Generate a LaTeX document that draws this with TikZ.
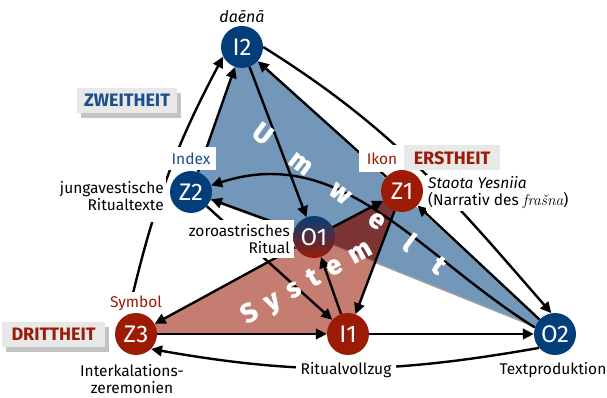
\documentclass[tikz,border=0pt]{standalone}
\usepackage{fontspec}
\setmainfont{Fira Sans}
\newfontfamily\lmserif{Latin Modern Roman}
\newfontfamily\heavyfont{Fira Sans}[BoldFeatures={FakeBold=1.2}]
\usetikzlibrary{arrows.meta,shadows}
\definecolor{nblue}{RGB}{4,62,122}
\definecolor{nred}{RGB}{155,27,5}
\definecolor{fblue}{RGB}{114,151,185}
\definecolor{fred}{RGB}{197,125,114}
\definecolor{fdark}{RGB}{124,52,52}
\definecolor{fdarkline}{RGB}{165,120,118}
\definecolor{lblue}{RGB}{27,78,140}
\definecolor{boxgray}{RGB}{232,232,232}
\definecolor{shadowgray}{RGB}{195,195,195}
\definecolor{polyshadow}{RGB}{160,160,160}
\pgfdeclarelayer{bg}\pgfdeclarelayer{lab}\pgfdeclarelayer{fg}
\pgfsetlayers{bg,main,lab,fg}
\begin{document}
\begin{tikzpicture}[x=1pt,y=1pt,
  circ/.style={circle, minimum size=42pt, inner sep=0pt, text=white, font=\fontsize{24}{24}\selectfont},
  bluenode/.style={circ, fill=nblue},
  rednode/.style={circ, fill=nred},
  arr/.style={line width=2.4pt, -{Triangle[length=11pt,width=10.5pt]}},
  lbl/.style={font=\fontsize{15.5}{17}\selectfont, inner sep=2pt},
  wlbl/.style={lbl, fill=white},
  theit/.style={font=\bfseries\fontsize{18}{18}\selectfont, fill=boxgray, inner sep=0pt, minimum height=25pt},
  shad/.style={drop shadow={shadow xshift=4pt, shadow yshift=-5pt, fill=shadowgray, opacity=1}},
  spaced/.style={text=white, font=\heavyfont\bfseries\fontsize{27}{27}\selectfont, inner sep=0pt}
]
\useasboundingbox (0,0) rectangle (607,398);

\begin{pgfonlayer}{fg}
\node[bluenode] (I2) at (242,351) {I2};
\node[bluenode] (Z2) at (191,206) {Z2};
\node[circ, top color=nblue, bottom color=nred] (O1) at (314,161) {O1};
\node[rednode] (Z1) at (402,207) {Z1};
\node[rednode] (Z3) at (136,64) {Z3};
\node[rednode] (I1) at (348,64) {I1};
\node[bluenode] (O2) at (555,64) {O2};
\end{pgfonlayer}

\begin{pgfonlayer}{bg}
\fill[polyshadow] ([shift={(0.5,-1.8)}]I2.center) -- ([shift={(0.5,-1.8)}]O2.center) -- ([shift={(0.5,-1.8)}]O1.center) -- ([shift={(0.5,-1.8)}]Z2.center) -- cycle;
\fill[fblue] (I2.center) -- (O2.center) -- (O1.center) -- (Z2.center) -- cycle;
\fill[fred] (Z3.center) -- (Z1.center) -- (I1.center) -- cycle;
\begin{scope}
\clip (Z3.center) -- (Z1.center) -- (I1.center) -- cycle;
\fill[fdarkline] ([shift={(0.5,-1.8)}]I2.center) -- ([shift={(0.5,-1.8)}]O2.center) -- ([shift={(0.5,-1.8)}]O1.center) -- ([shift={(0.5,-1.8)}]Z2.center) -- cycle;
\fill[fdark] (I2.center) -- (O2.center) -- (O1.center) -- (Z2.center) -- cycle;
\end{scope}
\end{pgfonlayer}

\draw[arr] (Z2) -- (I2);
\draw[arr] (I2) -- (O1);
\draw[arr] (Z1) -- (I2);
\draw[arr] (O1) -- (Z2);
\draw[arr] (O1) -- (Z1);
\draw[arr] (O1) -- (Z3);
\draw[arr] (Z2) -- (I1);
\draw[arr] (I1) -- (O1);
\draw[arr] (Z1) -- (I1);
\draw[arr] (O2) -- (Z1);
\draw[arr] (Z3) -- (I1);
\draw[arr] (I1) -- (O2);
\draw[arr] (Z3.112) to[out=77,in=242] (I2.207);
\draw[arr] (I2.east) to[out=-32,in=131] (O2.100);
\draw[arr] (O2.162) to[out=148,in=18] (Z2.18);
\draw[arr] (O2.221) to[out=190,in=350] (Z3.315);

\begin{pgfonlayer}{lab}
\node[lbl, font=\itshape\fontsize{16}{17}\selectfont] (daena) at (242,381) {daēnā};
\node[wlbl, text=lblue, minimum width=50pt, minimum height=23pt] (index) at (191,239.5) {Index};
\node[wlbl, text=nred, minimum width=46pt, minimum height=27pt] (ikon) at (382,239.5) {Ikon};
\node[theit, text=nred, minimum width=96pt] (erst) at (452,240) {ERSTHEIT};
\node[theit, shad, text=lblue, minimum width=100pt] (zweit) at (127,297.5) {ZWEITHEIT};
\node[theit, shad, text=nred, minimum width=103pt] (dritt) at (53.5,63.5) {DRITTHEIT};
\node[wlbl, text=nred, inner sep=4pt] (symbol) at (136,95) {Symbol};
\node[wlbl, align=right, anchor=east, minimum height=52pt] (jung) at (166,202) {jungavestische\\Ritualtexte};
\node[wlbl, align=right, anchor=east, inner sep=4pt] (zoro) at (294,159) {zoroastrisches\\Ritual};
\node[wlbl, align=left, anchor=west] (staota) at (426,205) {{\itshape Staota Yesniia}\\(Narrativ des {\lmserif\itshape frašna})};
\node[lbl, align=center] (interk) at (132,19) {Interkalations-\\zeremonien};
\node[wlbl, inner xsep=5pt] (ritv) at (346,28) {Ritualvollzug};
\node[lbl] (textp) at (553,28) {Textproduktion};
\node[spaced, rotate=-36.7] (umwelt) at (350,200.5) {U\hspace{28pt}m\hspace{28pt}w\hspace{28pt}e\hspace{28pt}l\hspace{28pt}t};
\node[spaced, rotate=29.3] (system) at (307,115) {S\hspace{11pt}y\hspace{11pt}s\hspace{11pt}t\hspace{11pt}e\hspace{11pt}m};
\end{pgfonlayer}
\end{tikzpicture}
\end{document}
